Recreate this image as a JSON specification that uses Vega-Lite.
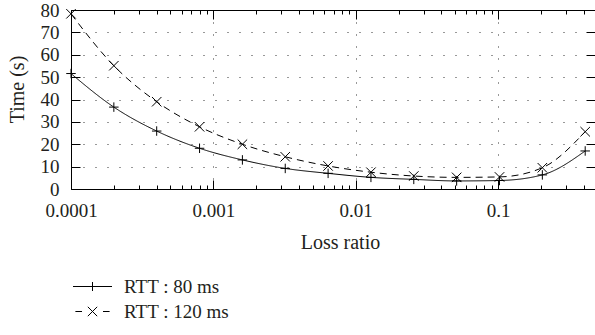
{
  "$schema": "https://vega.github.io/schema/vega-lite/v6.json",
  "autosize": {"type": "none"},
  "padding": {"left": 71, "top": 10, "right": 0, "bottom": 146},
  "width": 524,
  "height": 179,
  "background": "white",
  "config": {
    "view": {"stroke": null},
    "font": "Liberation Serif, DejaVu Serif, serif",
    "axis": {"labelFont": "Liberation Serif, DejaVu Serif, serif", "titleFont": "Liberation Serif, DejaVu Serif, serif", "labelColor": "#231f20", "titleColor": "#231f20", "titleFontWeight": "normal", "domainColor": "black", "tickColor": "black", "labelFontSize": 19, "titleFontSize": 20},
    "legend": {"labelFont": "Liberation Serif, DejaVu Serif, serif"}
  },
  "data": {
    "values": [
      {"ratio": 0.0001, "time": 51.6, "series": "RTT : 80 ms"},
      {"ratio": 0.0002, "time": 36.6, "series": "RTT : 80 ms"},
      {"ratio": 0.0004, "time": 25.9, "series": "RTT : 80 ms"},
      {"ratio": 0.0008, "time": 18.2, "series": "RTT : 80 ms"},
      {"ratio": 0.0016, "time": 13.0, "series": "RTT : 80 ms"},
      {"ratio": 0.0032, "time": 9.2, "series": "RTT : 80 ms"},
      {"ratio": 0.0064, "time": 7.0, "series": "RTT : 80 ms"},
      {"ratio": 0.0128, "time": 5.2, "series": "RTT : 80 ms"},
      {"ratio": 0.0256, "time": 4.3, "series": "RTT : 80 ms"},
      {"ratio": 0.0512, "time": 3.6, "series": "RTT : 80 ms"},
      {"ratio": 0.1024, "time": 3.8, "series": "RTT : 80 ms"},
      {"ratio": 0.2048, "time": 6.3, "series": "RTT : 80 ms"},
      {"ratio": 0.4096, "time": 17.0, "series": "RTT : 80 ms"},
      {"ratio": 0.0001, "time": 78.3, "series": "RTT : 120 ms"},
      {"ratio": 0.0002, "time": 55.1, "series": "RTT : 120 ms"},
      {"ratio": 0.0004, "time": 39.0, "series": "RTT : 120 ms"},
      {"ratio": 0.0008, "time": 27.8, "series": "RTT : 120 ms"},
      {"ratio": 0.0016, "time": 20.0, "series": "RTT : 120 ms"},
      {"ratio": 0.0032, "time": 14.4, "series": "RTT : 120 ms"},
      {"ratio": 0.0064, "time": 10.3, "series": "RTT : 120 ms"},
      {"ratio": 0.0128, "time": 7.5, "series": "RTT : 120 ms"},
      {"ratio": 0.0256, "time": 5.8, "series": "RTT : 120 ms"},
      {"ratio": 0.0512, "time": 5.2, "series": "RTT : 120 ms"},
      {"ratio": 0.1024, "time": 5.4, "series": "RTT : 120 ms"},
      {"ratio": 0.2048, "time": 9.5, "series": "RTT : 120 ms"},
      {"ratio": 0.4096, "time": 25.6, "series": "RTT : 120 ms"}
    ]
  },
  "resolve": {"axis": {"x": "independent", "y": "independent"}, "scale": {"shape": "independent"}, "legend": {"shape": "independent"}},
  "layer": [
    {
      "mark": {"type": "line", "color": "black", "strokeWidth": 1, "interpolate": "monotone"},
      "encoding": {
        "x": {
          "field": "ratio", "type": "quantitative",
          "scale": {"type": "log", "domain": [0.0001, 0.48], "nice": false},
          "axis": {
            "orient": "bottom",
            "values": [0.0001,0.0002,0.0003,0.0004,0.0005,0.0006,0.0007,0.0008,0.0009,0.001,0.002,0.003,0.004,0.005,0.006,0.007,0.008,0.009,0.01,0.02,0.03,0.04,0.05,0.06,0.07,0.08,0.09,0.1,0.2,0.3,0.4],
            "format": "~g",
            "labelExpr": "abs(log(datum.value)/LN10 - round(log(datum.value)/LN10)) < 0.001 ? datum.label : ''",
            "labelOverlap": false,
            "labelFlush": false,
            "labelBound": false,
            "labelBaseline": "alphabetic",
            "labelPadding": 36,
            "tickSize": {"condition": {"test": "abs(log(datum.value)/LN10 - round(log(datum.value)/LN10)) < 0.001", "value": -9}, "value": -4},
            "grid": true,
            "gridDash": [1, 11],
            "gridColor": "#333",
            "gridOpacity": {"condition": {"test": "abs(log(datum.value)/LN10 - round(log(datum.value)/LN10)) < 0.001", "value": 1}, "value": 0},
            "title": "Loss ratio",
            "titleX": 269,
            "titleY": 59,
            "titleAlign": "center",
            "titleBaseline": "alphabetic"
          }
        },
        "y": {
          "field": "time", "type": "quantitative",
          "scale": {"domain": [0, 80], "nice": false},
          "axis": {
            "orient": "left",
            "values": [0, 10, 20, 30, 40, 50, 60, 70, 80],
            "tickSize": -9,
            "labelPadding": 21,
            "labelBaseline": "middle",
            "grid": true,
            "gridDash": [1, 11],
            "gridColor": "#333",
            "title": "Time (s)",
            "titleAngle": -90,
            "titleX": -54,
            "titleY": 79,
            "titleAlign": "center",
            "titleBaseline": "middle"
          }
        },
        "strokeDash": {
          "field": "series", "type": "nominal",
          "scale": {"domain": ["RTT : 80 ms", "RTT : 120 ms"], "range": [[1, 0], [7, 5]]},
          "legend": null
        },
        "detail": {"field": "series", "type": "nominal"}
      }
    },
    {
      "mark": {"type": "point", "filled": false, "stroke": "black", "strokeWidth": 1, "size": 90, "opacity": 1},
      "encoding": {
        "x": {
          "field": "ratio", "type": "quantitative",
          "axis": {
            "orient": "top",
            "values": [0.0001,0.0002,0.0003,0.0004,0.0005,0.0006,0.0007,0.0008,0.0009,0.001,0.002,0.003,0.004,0.005,0.006,0.007,0.008,0.009,0.01,0.02,0.03,0.04,0.05,0.06,0.07,0.08,0.09,0.1,0.2,0.3,0.4],
            "labels": false,
            "title": null,
            "grid": false,
            "tickSize": {"condition": {"test": "abs(log(datum.value)/LN10 - round(log(datum.value)/LN10)) < 0.001", "value": -9}, "value": -4}
          }
        },
        "y": {
          "field": "time", "type": "quantitative",
          "axis": {
            "orient": "right",
            "values": [0, 10, 20, 30, 40, 50, 60, 70, 80],
            "labels": false,
            "title": null,
            "grid": false,
            "domain": false,
            "tickSize": -9
          }
        },
        "shape": {
          "field": "series", "type": "nominal",
          "scale": {"domain": ["RTT : 80 ms", "RTT : 120 ms"], "range": ["M-1,0L1,0M0,-1L0,1", "M-1,-1L1,1M-1,1L1,-1"]},
          "legend": null
        }
      }
    },
    {
      "transform": [{"filter": "false"}],
      "mark": {"type": "point", "filled": false, "stroke": "black", "strokeWidth": 1},
      "encoding": {
        "shape": {
          "field": "series", "type": "nominal",
          "scale": {"domain": ["RTT : 80 ms", "RTT : 120 ms"], "range": ["M-3.25,0L3.25,0M0,-0.75L0,0.75", "M-2.85,0L-1.75,0M1.75,0L2.85,0M-0.78,-0.78L0.78,0.78M-0.78,0.78L0.78,-0.78"]},
          "legend": {
            "orient": "none",
            "legendX": 12,
            "legendY": 267,
            "title": null,
            "padding": 0,
            "symbolSize": 144,
            "symbolStrokeColor": "black",
            "symbolFillColor": "transparent",
            "symbolStrokeWidth": 1,
            "symbolOpacity": 1,
            "labelFont": "Liberation Serif, DejaVu Serif, serif",
            "labelFontSize": 19,
            "labelColor": "#231f20",
            "labelOffset": 22,
            "rowPadding": 5
          }
        }
      }
    }
  ]
}
